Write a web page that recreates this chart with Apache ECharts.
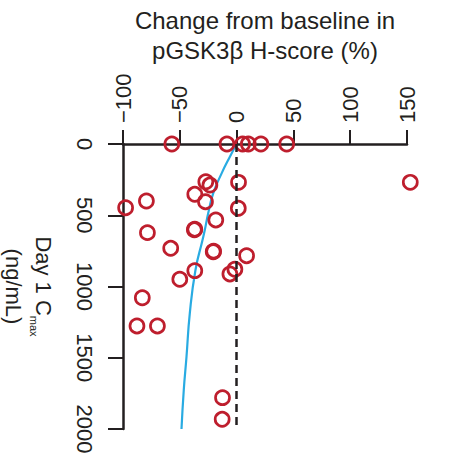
<!DOCTYPE html>
<html>
<head>
<meta charset="utf-8">
<script src="https://cdn.jsdelivr.net/npm/echarts@6/dist/echarts.min.js"></script>
<style>
  html, body { margin: 0; padding: 0; background: #ffffff; }
  #chart { width: 472px; height: 457px; }
</style>
</head>
<body>
<div id="chart"></div>
<script>
// Change from baseline in pGSK3β H-score (%) per patient
var changePct = [-57, -8.5, 5.3, 10.3, 21.4, 44.1,
  -27.1, -23.5, 1.7, 152.9,
  -79.4, -36.8, -27.4, -97.7, 1.5,
  -18.3, -78.5, -36.8, -37.2,
  -58, -20.6, -20.2, 8.8,
  -36.8, -1.5, -5.9, -50,
  -83, -87.7, -69.7,
  -12.4, -12.7];
// Day 1 Cmax (ng/mL) per patient
var cmax = [0, 0, 0, 0, 0, 0,
  265, 288, 269, 269,
  400, 353, 405, 447, 451,
  533, 622, 598, 602,
  732, 756, 752, 784,
  889, 879, 912, 949,
  1079, 1277, 1277,
  1780, 1932];
// Fitted exposure-response curve
var fitCmax = [0, 89, 206, 346, 486, 604, 674, 884, 1188, 1493, 1726, 2000];
var fitChange = [0, -5.9, -13.2, -20.6, -25, -28, -30, -36.2, -41.2, -44.1, -46.5, -48.5];
var xTicks = [-100, -50, 0, 50, 100, 150];
var yTicks = [0, 500, 1000, 1500, 2000];
var refX = 0;

var ink = '#231f20';
var font = 'Liberation Sans, Arial, Helvetica, sans-serif';

var points = changePct.map(function (v, i) { return [v, cmax[i]]; });
var curve = fitChange.map(function (v, i) { return [v, fitCmax[i]]; });

var chart = echarts.init(document.getElementById('chart'), null, { renderer: 'svg' });
chart.setOption({
  animation: false,
  backgroundColor: '#ffffff',
  grid: { left: 123, right: 65, top: 144, bottom: 28, containLabel: false, outerBoundsMode: 'none' },
  xAxis: {
    type: 'value', position: 'top',
    min: xTicks[0], max: xTicks[xTicks.length - 1], interval: 50,
    name: 'Change from baseline in\npGSK3β H-score (%)',
    nameLocation: 'middle', nameGap: 69,
    nameTextStyle: { color: ink, fontSize: 24, fontFamily: font, lineHeight: 30 },
    axisLine: { onZero: false, lineStyle: { color: ink, width: 2.5 } },
    axisTick: { show: true, length: 14, lineStyle: { color: ink, width: 2 } },
    axisLabel: {
      rotate: -90, margin: 21, color: ink, fontSize: 22, fontFamily: font,
      formatter: function (v) { return String(v).replace('-', '\u2212'); }
    },
    splitLine: { show: false }
  },
  yAxis: {
    type: 'value', inverse: true,
    min: yTicks[0], max: yTicks[yTicks.length - 1], interval: 500,
    name: '{a|Day 1 C}{s|max}\n{a|(ng/mL)}',
    nameLocation: 'middle', nameGap: 65, nameRotate: -90,
    nameTextStyle: {
      color: ink, fontFamily: font,
      rich: {
        a: { fontSize: 22, fontFamily: font, color: ink, lineHeight: 30 },
        s: { fontSize: 11, fontFamily: font, color: ink, verticalAlign: 'bottom', lineHeight: 30, padding: [8, 0, 0, 0] }
      }
    },
    axisLine: { onZero: false, lineStyle: { color: ink, width: 2.5 } },
    axisTick: { show: true, length: 15, lineStyle: { color: ink, width: 2 } },
    axisLabel: {
      rotate: -90, margin: 28, color: ink, fontSize: 22, fontFamily: font,
      formatter: function (v) { return String(v); }
    },
    splitLine: { show: false }
  },
  series: [
    {
      type: 'line', data: curve, smooth: true, showSymbol: false, symbol: 'none',
      lineStyle: { color: '#29abe2', width: 2.2 }, z: 2,
      markLine: {
        silent: true, symbol: 'none', label: { show: false },
        lineStyle: { color: ink, type: [8, 5], width: 2.5 },
        data: [{ xAxis: refX }]
      }
    },
    {
      type: 'scatter', data: points, symbol: 'circle', symbolSize: 14, clip: false,
      itemStyle: { color: 'rgba(255,255,255,0)', borderColor: '#be1e2d', borderWidth: 2.7, opacity: 1 },
      z: 3
    }
  ]
});
</script>
</body>
</html>
